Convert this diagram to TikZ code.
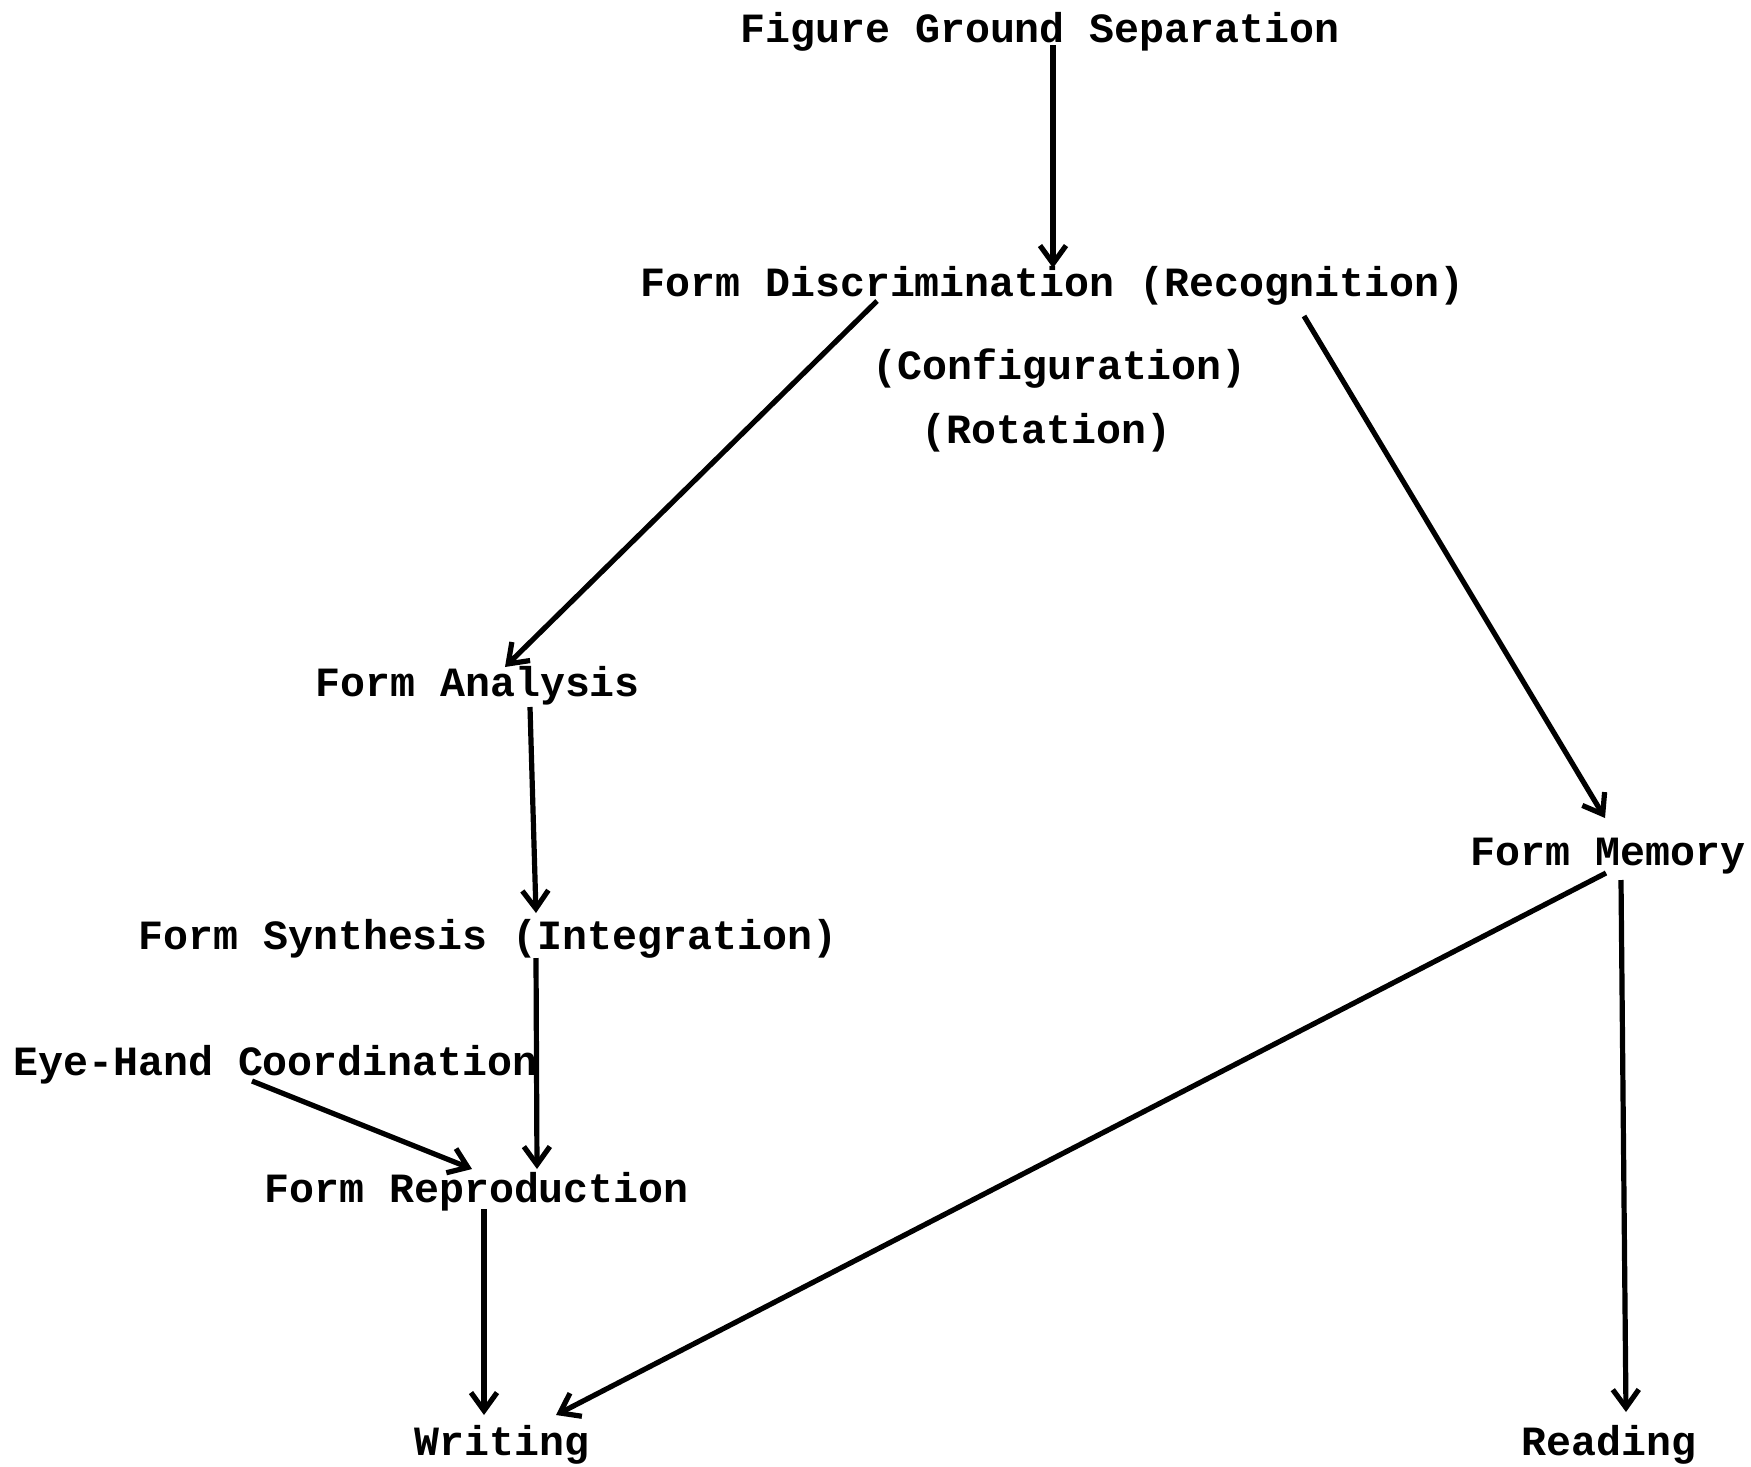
\documentclass[tikz,border=0pt]{standalone}
\usepackage{fontspec}
\newfontfamily\twfont{Liberation Mono}
\usetikzlibrary{arrows.meta,calc}
\tikzset{
  lbl/.style={anchor=base west,inner sep=0pt,font=\twfont\bfseries\fontsize{20.8}{24}\selectfont},
  arr/.style={draw=black,line width=2.6pt,-{Straight Barb[length=9pt,width=13pt,line width=2.6pt]}}
}
\begin{document}
\begin{tikzpicture}[x=0.5pt,y=-0.5pt]
\path[fill=white] (0,0) rectangle (1751,1467);
\useasboundingbox (0,0) rectangle (1751,1467);
\node[lbl] (fgs) at (740,42) {Figure Ground Separation};
\node[lbl] (fd) at (640,296) {Form Discrimination (Recognition)};
\node[lbl] (conf) at (872,379) {(Configuration)};
\node[lbl] (rot) at (921,443) {(Rotation)};
\node[lbl] (fa) at (315,696) {Form Analysis};
\node[lbl] (fm) at (1470,865) {Form Memory};
\node[lbl] (fs) at (138,949) {Form Synthesis (Integration)};
\node[lbl] (ehc) at (13,1075) {Eye-Hand Coordination};
\node[lbl] (fr) at (264,1202) {Form Reproduction};
\node[lbl] (wr) at (414,1455) {Writing};
\node[lbl] (rd) at (1521,1455) {Reading};
\draw[arr] ($(fgs.base west)+(313,3)$) -- ($(fd.base west)+(413,-28)$);
\draw[arr] ($(fd.base west)+(237,5)$) -- ($(fa.base west)+(190,-29)$);
\draw[arr] ($(fd.base west)+(664,20)$) -- ($(fm.base west)+(135,-47)$);
\draw[arr] ($(fa.base west)+(215,11)$) -- ($(fs.base west)+(398,-36)$);
\draw[arr] ($(fs.base west)+(398,9)$) -- ($(fr.base west)+(273,-33)$);
\draw[arr] ($(ehc.base west)+(239,6)$) -- ($(fr.base west)+(208,-33)$);
\draw[arr] ($(fr.base west)+(220,7)$) -- ($(wr.base west)+(70,-40)$);
\draw[arr] ($(fm.base west)+(136,8)$) -- ($(wr.base west)+(142,-40)$);
\draw[arr] ($(fm.base west)+(151,15)$) -- ($(rd.base west)+(105,-43)$);
\end{tikzpicture}
\end{document}
